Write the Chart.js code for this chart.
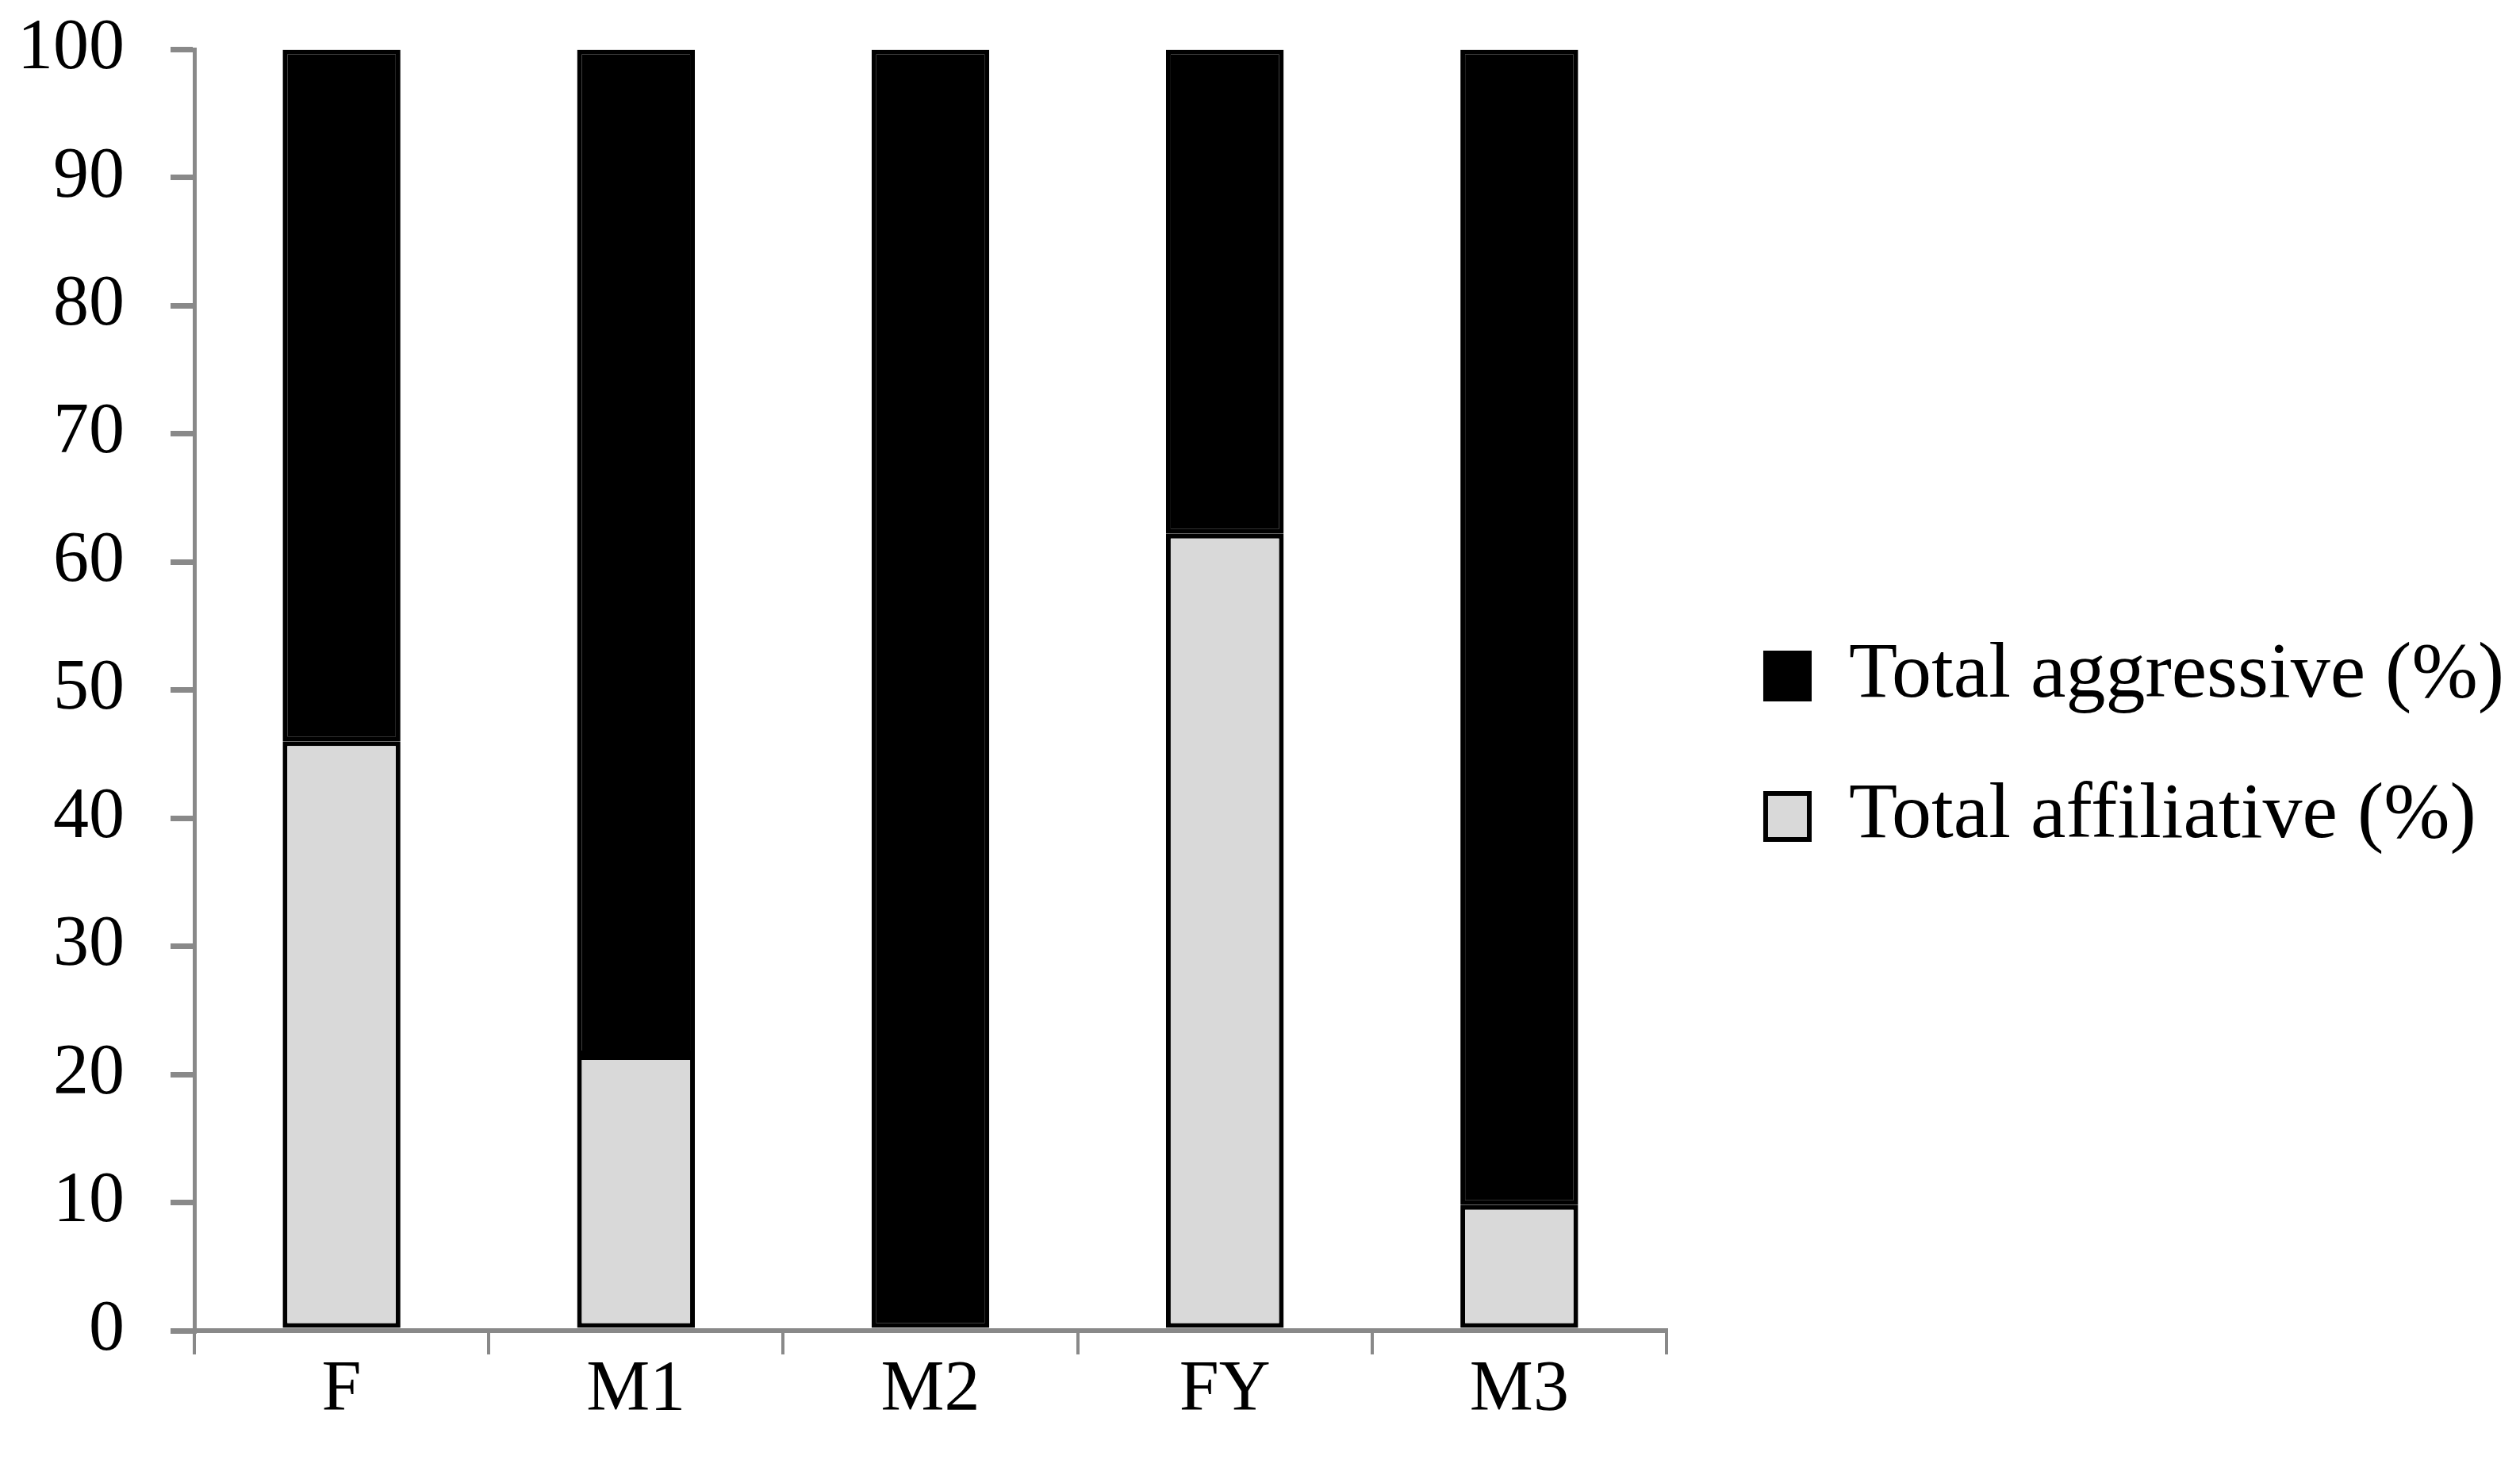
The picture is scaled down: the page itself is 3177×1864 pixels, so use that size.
<!DOCTYPE html>
<html>
<head>
<meta charset="utf-8">
<script src="https://cdn.jsdelivr.net/npm/chart.js@4/dist/chart.umd.min.js"></script>
<style>
  html, body { margin: 0; padding: 0; background: #ffffff; }
</style>
</head>
<body>
<canvas id="grafica" width="3177" height="1864"></canvas>
<script>
// datos
var categorias = ["F", "M1", "M2", "FY", "M3"];
var afiliativo = [46.0, 21.5, 0, 62.2, 9.8];
var agresivo = [54.0, 78.5, 100, 37.8, 90.2];
var etiquetasSerie = ["Total affiliative (%)", "Total aggressive (%)"];
var marcasY = [0, 10, 20, 30, 40, 50, 60, 70, 80, 90, 100];

var fuente = "'Liberation Serif', 'DejaVu Serif', serif";
var gris = "#898989";

new Chart(document.getElementById("grafica"), {
    type: "bar",
    data: {
        labels: categorias,
        datasets: [{
            label: etiquetasSerie[0],
            data: afiliativo,
            backgroundColor: "#d9d9d9",
            borderColor: "#000000",
            borderWidth: 6,
            borderSkipped: false
        }, {
            label: etiquetasSerie[1],
            data: agresivo,
            backgroundColor: "#000000",
            borderColor: "#000000",
            borderWidth: 6,
            borderSkipped: false
        }]
    },
    options: {
        responsive: false,
        devicePixelRatio: 1,
        animation: false,
        barPercentage: 0.4,
        categoryPercentage: 1,
        layout: {
            padding: { left: -36, top: 0, right: 10, bottom: -17 }
        },
        plugins: {
            tooltip: { enabled: false },
            legend: {
                display: true,
                position: "right",
                reverse: true,
                maxWidth: 1400,
                labels: {
                    color: "#000000",
                    font: { family: fuente, size: 100 },
                    boxWidth: 55,
                    boxHeight: 58,
                    padding: 77
                }
            }
        },
        scales: {
            x: {
                stacked: true,
                offset: true,
                border: { display: true, color: gris, width: 6 },
                grid: {
                    display: true,
                    offset: true,
                    drawOnChartArea: false,
                    drawTicks: true,
                    tickLength: 30,
                    color: gris,
                    lineWidth: 4
                },
                ticks: {
                    color: "#000000",
                    font: { family: fuente, size: 90 },
                    padding: -8
                },
                afterFit: function (eje) {
                    // espacio extra bajo las etiquetas
                    eje.height += 82;
                }
            },
            y: {
                stacked: true,
                min: 0,
                max: 100,
                afterBuildTicks: function (eje) {
                    eje.ticks = marcasY.map(function (v) { return { value: v }; });
                },
                border: { display: true, color: gris, width: 5 },
                grid: {
                    display: true,
                    drawOnChartArea: false,
                    drawTicks: true,
                    tickLength: 30,
                    color: gris,
                    lineWidth: 7
                },
                ticks: {
                    color: "#000000",
                    font: { family: fuente, size: 90, lineHeight: 0.1 },
                    padding: 58
                }
            },
            // eje invisible: separa el area de la leyenda
            yDer: {
                position: "right",
                display: true,
                min: 0,
                max: 100,
                grid: { display: false, drawTicks: false },
                border: { display: false },
                ticks: { display: false },
                afterFit: function (eje) {
                    eje.width = 48;
                }
            }
        }
    }
});
</script>
</body>
</html>
